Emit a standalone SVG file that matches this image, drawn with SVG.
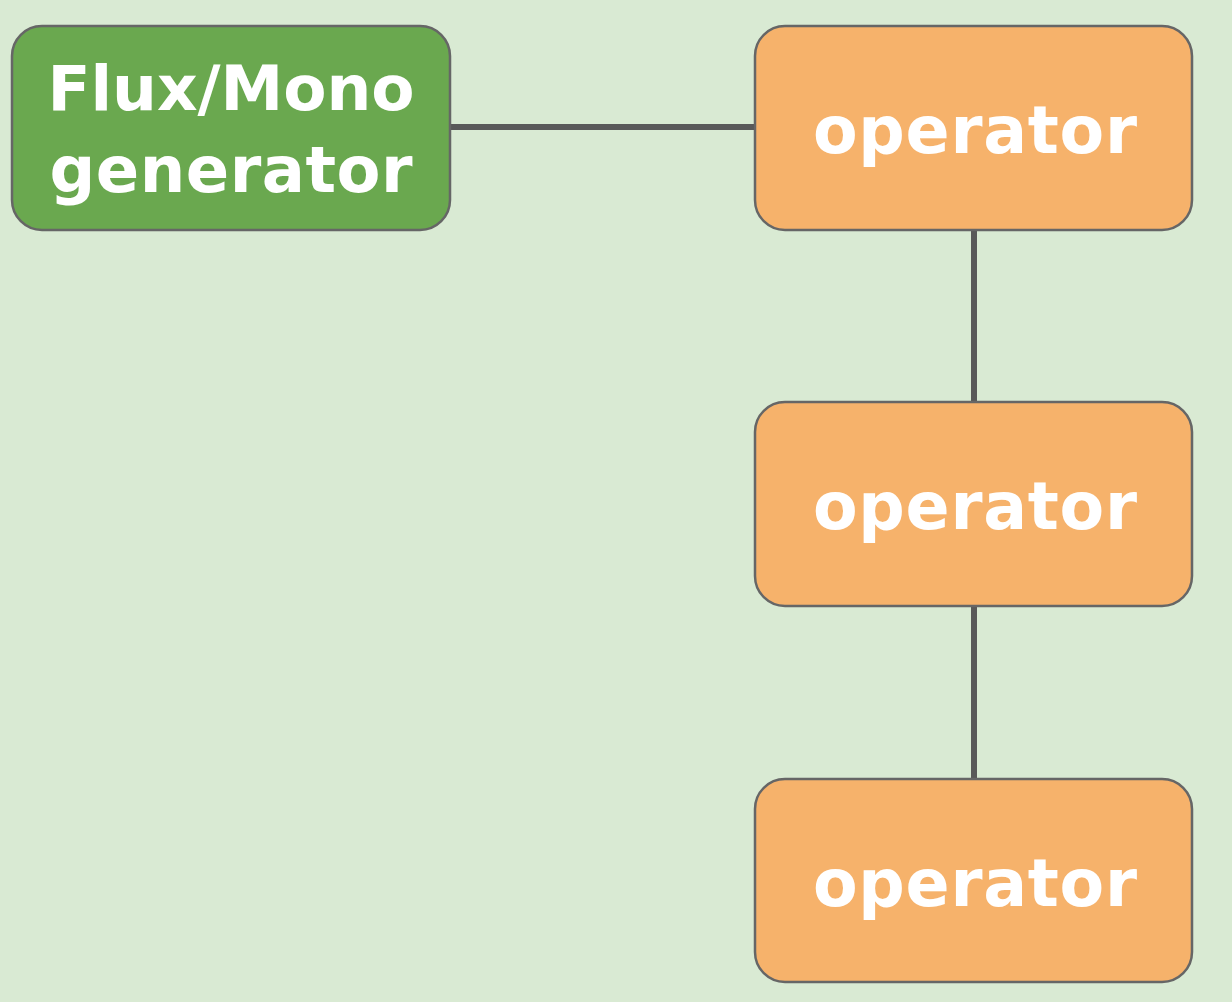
<svg xmlns="http://www.w3.org/2000/svg" width="1232" height="1002" viewBox="0 0 1232 1002">
<style>
.bg{fill:#d9ead3}
.box{stroke:#666666;stroke-width:2.5}
.gen{fill:#6aa84f}
.op{fill:#f6b26b}
.lbl{fill:#ffffff;font-family:"DejaVu Sans","Liberation Sans",sans-serif;font-weight:bold;text-anchor:middle}
.conn{stroke:#595959;stroke-width:6;fill:none}
</style>
<rect class="bg" x="0" y="0" width="1232" height="1002"/>
<g id="connectors">
<line class="conn" x1="450" y1="127" x2="755" y2="127"/>
<line class="conn" x1="974" y1="230" x2="974" y2="402"/>
<line class="conn" x1="974" y1="606" x2="974" y2="779"/>
</g>
<g id="generator">
<rect class="box gen" x="12" y="26" width="438" height="204" rx="30"/>
<text class="lbl" x="231" y="110" font-size="63" textLength="367" lengthAdjust="spacing">Flux/Mono</text>
<text class="lbl" x="231" y="192" font-size="64" textLength="363" lengthAdjust="spacing">generator</text>
</g>
<g id="operator1">
<rect class="box op" x="755" y="26" width="437" height="204" rx="30"/>
<text class="lbl" x="975" y="153" font-size="65" textLength="324" lengthAdjust="spacing">operator</text>
</g>
<g id="operator2">
<rect class="box op" x="755" y="402" width="437" height="204" rx="30"/>
<text class="lbl" x="975" y="529" font-size="65" textLength="324" lengthAdjust="spacing">operator</text>
</g>
<g id="operator3">
<rect class="box op" x="755" y="779" width="437" height="203" rx="30"/>
<text class="lbl" x="975" y="906" font-size="65" textLength="324" lengthAdjust="spacing">operator</text>
</g>
</svg>
